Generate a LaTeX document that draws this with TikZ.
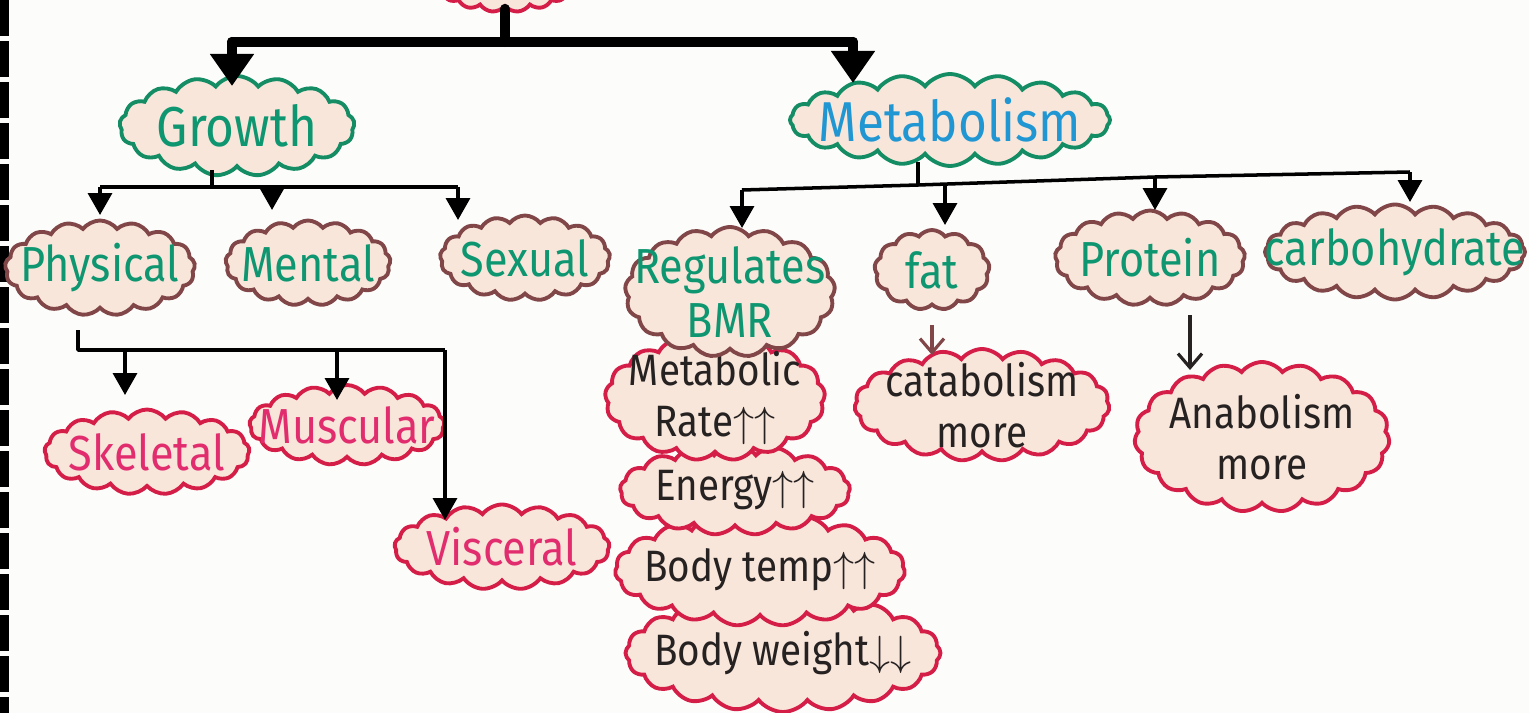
\documentclass[tikz,border=0pt]{standalone}
\usepackage{fontspec}
\setmainfont{Fira Sans}[FakeStretch=0.88]
\usetikzlibrary{arrows.meta,shapes.symbols}

\definecolor{leafgreen}{RGB}{14,150,112}
\definecolor{skyblue}{RGB}{32,150,210}
\definecolor{topicline}{RGB}{20,140,100}
\definecolor{subline}{RGB}{128,70,72}
\definecolor{leafline}{RGB}{212,30,72}
\definecolor{pinktext}{RGB}{225,45,110}
\definecolor{inkblack}{RGB}{38,34,34}
\definecolor{peach}{RGB}{249,230,219}
\definecolor{paper}{RGB}{252,252,250}

\begin{document}
\begin{tikzpicture}[
    bubble/.style={cloud, cloud puffs=17, cloud puff arc=105, cloud ignores aspect,
                   draw, line width=1.1pt, fill=peach, inner sep=0pt},
    words/.style={align=center, inner sep=0pt, font=\fontsize{14}{15.5}\selectfont},
    topic/.style={bubble, draw=topicline,
                  label={[words, text=leafgreen, font=\fontsize{16}{18}\selectfont]center:{#1}}},
    sub/.style={bubble, draw=subline, label={[words, text=leafgreen]center:{#1}}},
    leaf/.style={bubble, draw=leafline, label={[words, text=pinktext]center:{#1}}},
    fact/.style={bubble, draw=leafline,
                 label={[words, text=inkblack, font=\fontsize{12.5}{14.5}\selectfont]center:{#1}}},
    bigline/.style={line width=2.9pt, line cap=round, line join=round},
    bigarrow/.style={bigline, -{Triangle[width=0.42cm,length=0.32cm]}},
    busline/.style={line width=1pt, line join=round},
    busarrow/.style={busline, -{Triangle[width=0.24cm,length=0.22cm]}},
    thinarrow/.style={line width=0.9pt, -{Straight Barb[length=0.14cm,width=0.24cm]}}
  ]
  \useasboundingbox (0,0) rectangle (15.29,-7.13);
  \fill[paper] (0,0) rectangle (15.29,-7.13);

  % binding strip on the left edge
  \draw[line width=0.09cm, dash pattern=on 0.36cm off 0.05cm] (0.045,0) -- (0.045,-7.13);

  % root (cut off at the top)
  \node[bubble, draw=leafline, minimum width=1.4cm, minimum height=0.6cm] (root) at (5.05,0.18) {};

  % first level
  \node[topic=Growth, minimum width=2.35cm, minimum height=1.0cm] (growth) at (2.37,-1.26) {};
  \node[bubble, draw=topicline, cloud puffs=20, minimum width=3.2cm, minimum height=0.92cm,
        label={[words, text=skyblue, font=\fontsize{16}{18}\selectfont]center:Metabolism}]
        (metab) at (9.50,-1.20) {};

  % growth
  \node[sub=Physical, minimum width=1.9cm, minimum height=0.95cm] (physical) at (1.00,-2.68) {};
  \node[sub=Mental, minimum width=1.65cm, minimum height=0.85cm] (mental) at (3.08,-2.63) {};
  \node[sub=Sexual, minimum width=1.7cm, minimum height=0.85cm] (sexual) at (5.25,-2.58) {};

  \node[leaf=Skeletal, minimum width=2.05cm, minimum height=0.85cm] (skeletal) at (1.47,-4.52) {};
  \node[leaf=Muscular, minimum width=1.95cm, minimum height=0.8cm] (muscular) at (3.47,-4.25) {};
  \node[leaf=Visceral, minimum width=2.15cm, minimum height=0.85cm] (visceral) at (5.02,-5.47) {};

  % metabolism, the BMR stack is drawn from the bottom up
  \node[fact={Body weight$\downarrow\downarrow$}, cloud puffs=20, minimum width=3.15cm, minimum height=1.18cm] (bodyweight) at (7.83,-6.53) {};
  \node[fact={Body temp$\uparrow\uparrow$}, cloud puffs=19, minimum width=2.9cm, minimum height=1.12cm] (bodytemp) at (7.60,-5.70) {};
  \node[fact={Energy$\uparrow\uparrow$}, minimum width=2.3cm, minimum height=0.9cm] (energy) at (7.35,-4.90) {};
  \node[fact={Metabolic\\Rate$\uparrow\uparrow$}, minimum width=2.2cm, minimum height=1.25cm] (metrate) at (7.15,-3.98) {};
  \node[sub={Regulates\\BMR}, minimum width=2.1cm, minimum height=1.3cm] (regbmr) at (7.30,-2.92) {};

  \node[sub=fat, cloud puffs=13, minimum width=1.15cm, minimum height=0.8cm] (fat) at (9.32,-2.70) {};
  \node[sub=Protein, minimum width=1.9cm, minimum height=0.95cm] (protein) at (11.50,-2.58) {};
  \node[sub=carbohydrate, cloud puffs=20, minimum width=2.6cm, minimum height=0.95cm] (carb) at (13.95,-2.52) {};

  \node[fact={catabolism\\more}, cloud puffs=19, minimum width=2.55cm, minimum height=1.12cm] (catab) at (9.82,-4.05) {};
  \node[fact={Anabolism\\more}, cloud puffs=19, minimum width=2.55cm, minimum height=1.5cm] (anab) at (12.62,-4.37) {};

  % root to first level
  \coordinate (mainL) at (2.32,-0.42);
  \coordinate (mainR) at (8.53,-0.42);
  \draw[bigline] (root.south) -- (root.south |- mainL);
  \draw[bigline] (mainL) -- (mainR);
  \draw[bigarrow, shorten >=0.40cm] (mainL) -- (mainL |- growth);
  \draw[bigarrow, shorten >=0.37cm] (mainR) -- (mainR |- metab);

  % growth branches
  \coordinate (gstem) at (2.12,-1.87);
  \coordinate (gb1) at (1.00,-1.87);
  \coordinate (gb2) at (2.72,-1.87);
  \coordinate (gb3) at (4.58,-1.87);
  \draw[busline, shorten <=0.44cm] (gstem |- growth) -- (gstem);
  \draw[busline] (gb1) -- (gb3);
  \draw[busarrow, shorten >=0.53cm] (gb1) -- (gb1 |- physical);
  \draw[busarrow, shorten >=0.53cm] (gb2) -- (gb2 |- mental);
  \draw[busarrow, shorten >=0.38cm] (gb3) -- (gb3 |- sexual);

  % physical branches
  \coordinate (pb0) at (0.78,-3.50);
  \coordinate (pb1) at (1.25,-3.50);
  \coordinate (pb2) at (3.37,-3.50);
  \coordinate (pb3) at (4.45,-3.50);
  \draw[busline, shorten <=0.62cm] (pb0 |- physical) -- (pb0) -- (pb3);
  \draw[busarrow, shorten >=0.57cm] (pb1) -- (pb1 |- skeletal);
  \draw[busarrow, shorten >=0.25cm] (pb2) -- (pb2 |- muscular);
  \draw[busarrow, shorten >=0.27cm] (pb3) -- (pb3 |- visceral);

  % metabolism branches
  \coordinate (mstem) at (9.18,-1.85);
  \coordinate (mb1) at (7.42,-1.90);
  \coordinate (mb2) at (9.45,-1.84);
  \coordinate (mb3) at (11.55,-1.77);
  \coordinate (mb4) at (14.10,-1.72);
  \draw[busline, shorten <=0.42cm] (mstem |- metab) -- (mstem);
  \draw[busline] (mb1) -- (mstem) -- (mb3) -- (mb4);
  \draw[busarrow, shorten >=0.64cm] (mb1) -- (mb1 |- regbmr);
  \draw[busarrow, shorten >=0.45cm] (mb2) -- (mb2 |- fat);
  \draw[busarrow, shorten >=0.48cm] (mb3) -- (mb3 |- protein);
  \draw[busarrow, shorten >=0.50cm] (mb4) -- (mb4 |- carb);

  % fat and protein
  \coordinate (panchor) at (11.90,0);
  \draw[thinarrow, subline, shorten <=0.55cm, shorten >=0.50cm] (fat.center) -- (fat |- catab);
  \draw[thinarrow, inkblack, shorten <=0.57cm, shorten >=0.67cm] (protein -| panchor) -- (panchor |- anab);
\end{tikzpicture}
\end{document}
